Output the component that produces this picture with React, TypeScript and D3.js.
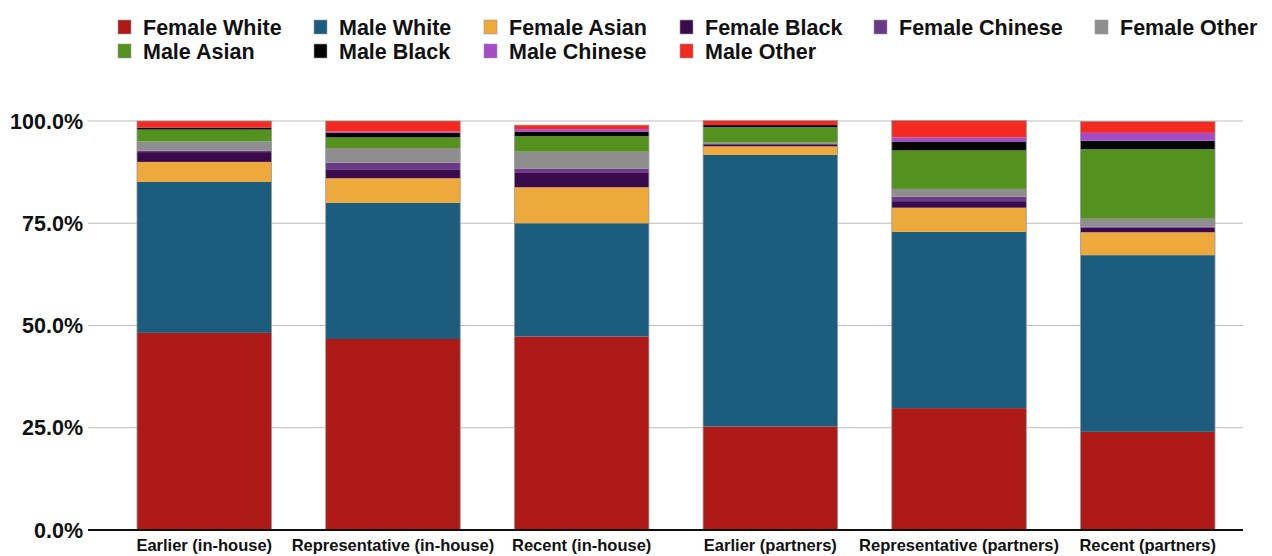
import React from 'react';
import * as d3 from 'd3';

// ==== data

const categories = [
  'Earlier (in-house)',
  'Representative (in-house)',
  'Recent (in-house)',
  'Earlier (partners)',
  'Representative (partners)',
  'Recent (partners)'
];

const seriesNames = [
  'Female White', 'Male White', 'Female Asian', 'Female Black', 'Female Chinese',
  'Female Other', 'Male Asian', 'Male Black', 'Male Chinese', 'Male Other'
];

const seriesColors = [
  '#ad1a18', '#1c5d7e', '#eea93c', '#3a0b4c', '#6b3a86',
  '#8e8e8e', '#54911f', '#050505', '#a54bc8', '#f42a22'
];

// percent of each bar, one array per series (same order as categories)
const femaleWhite = [48.2, 46.7, 47.3, 25.3, 29.8, 24.0];
const maleWhite = [36.9, 33.3, 27.7, 66.4, 43.1, 43.2];
const femaleAsian = [4.9, 6.0, 8.8, 2.1, 5.9, 5.6];
const femaleBlack = [2.4, 2.2, 3.5, 0.5, 1.6, 1.1];
const femaleChinese = [0.3, 1.6, 1.1, 0.1, 1.1, 0.3];
const femaleOther = [2.3, 3.6, 4.1, 0.3, 1.9, 1.9];
const maleAsian = [2.9, 2.6, 3.8, 3.8, 9.4, 17.0];
const maleBlack = [0.5, 1.1, 1.1, 0.5, 2.2, 2.1];
const maleChinese = [0.0, 0.3, 0.6, 0.0, 1.0, 1.9];
const maleOther = [1.6, 2.6, 1.0, 1.1, 4.1, 2.8];

const seriesValues = [
  femaleWhite, maleWhite, femaleAsian, femaleBlack, femaleChinese,
  femaleOther, maleAsian, maleBlack, maleChinese, maleOther
];

const yTicks = [0, 25, 50, 75, 100];

// ====

const WIDTH = 1272;
const HEIGHT = 556;
const FONT = '"Liberation Sans", Arial, Helvetica, sans-serif';

export default function App() {
  const x = d3.scaleBand<string>()
    .domain(categories)
    .range([110, 1242])
    .paddingInner(0.287)
    .paddingOuter(0.143);

  const y = d3.scaleLinear().domain([0, 100]).range([530, 121]);

  const table = categories.map((c, i) => {
    const row: any = { category: c };
    seriesNames.forEach((s, j) => { row[s] = seriesValues[j][i]; });
    return row;
  });

  const stacked = d3.stack<any>().keys(seriesNames)(table);

  // legend text starts, 6 columns wrapping into a second row
  const legendCols = [143, 339, 509, 705, 899, 1120];

  return (
    <svg width={WIDTH} height={HEIGHT}
      style={{ position: 'absolute', left: 0, top: 0, background: '#fff' }}
      fontFamily={FONT}>
      {/* legend */}
      {seriesNames.map((s, i) => {
        const lx = legendCols[i % 6];
        const ly = i < 6 ? 27 : 51;
        return (
          <g key={s} transform={`translate(${lx},${ly})`}>
            <rect x={-25} y={-7} width={13} height={14} fill={seriesColors[i]}
              stroke="#999" strokeWidth={0.6} />
            <text x={0} y={0} dy="0.36em" fontSize={21.5} fontWeight="bold" fill="#111">{s}</text>
          </g>
        );
      })}

      {/* grid + y ticks */}
      {yTicks.map(t => (
        <g key={t}>
          {t > 0 && (
            <line x1={88} x2={1243} y1={y(t)} y2={y(t)} stroke="#bdbdbd" strokeWidth={1.2} />
          )}
          <text x={83} y={y(t)} dy="0.36em" textAnchor="end" fontSize={21.5}
            fontWeight="bold" fill="#111">{d3.format('.1f')(t)}%</text>
        </g>
      ))}

      {/* bars */}
      {stacked.map((layer, j) => (
        <g key={layer.key} fill={seriesColors[j]}>
          {layer.map((d, i) => {
            const h = y(d[0]) - y(d[1]);
            if (h <= 0) return null;
            return (
              <rect key={i} x={x(categories[i])} y={y(d[1])}
                width={x.bandwidth()} height={h} />
            );
          })}
        </g>
      ))}

      {/* bar outlines */}
      {categories.map((c, i) => {
        const top = stacked[stacked.length - 1][i][1];
        return (
          <rect key={c} x={x(c)} y={y(top)} width={x.bandwidth()} height={y(0) - y(top)}
            fill="none" stroke="#9a9a9a" strokeWidth={0.8} />
        );
      })}

      {/* x axis */}
      <line x1={88} x2={1243} y1={y(0)} y2={y(0)} stroke="#111" strokeWidth={2} />
      {categories.map(c => (
        <text key={c} x={(x(c) as number) + x.bandwidth() / 2} y={551}
          textAnchor="middle" fontSize={16.5} fontWeight="bold" fill="#111">{c}</text>
      ))}
    </svg>
  );
}
